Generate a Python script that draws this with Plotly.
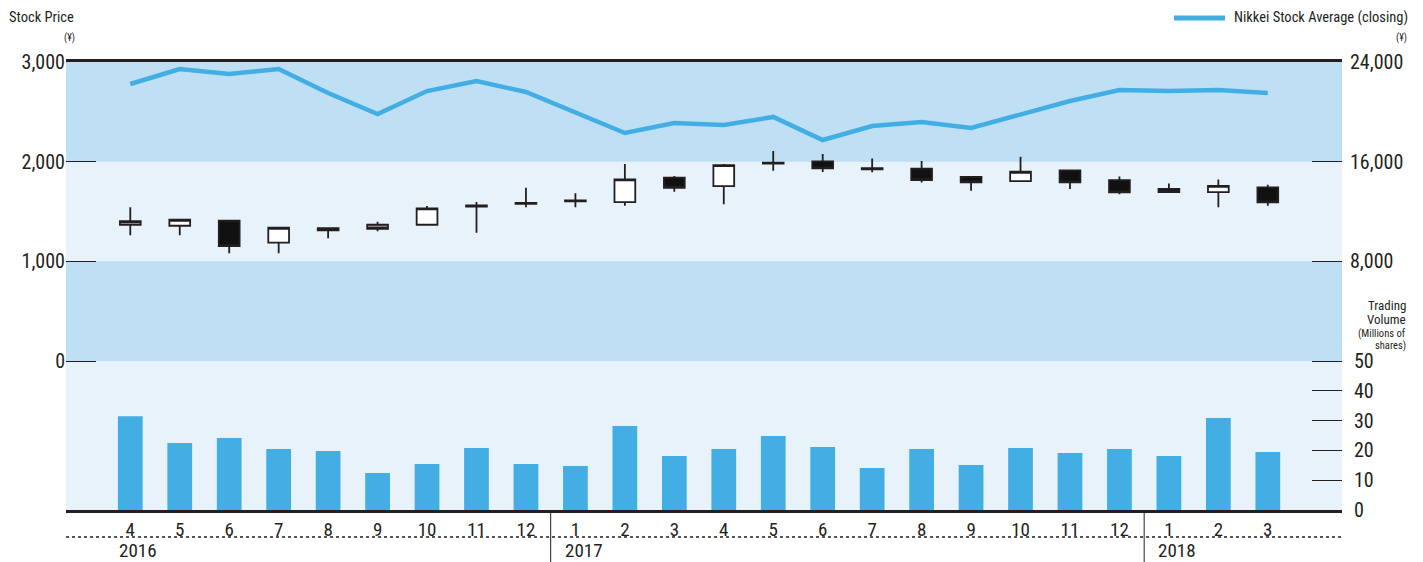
import plotly.graph_objects as go

# ---------------- data ----------------
months = ["4", "5", "6", "7", "8", "9", "10", "11", "12",
          "1", "2", "3", "4", "5", "6", "7", "8", "9", "10", "11", "12",
          "1", "2", "3"]
years = ["2016", "2017", "2018"]
year_start_idx = [0, 9, 21]

open_ = [1367, 1357, 1407, 1187, 1334, 1367, 1367, 1560, 1587,
         1612, 1595, 1839, 1755, 1991, 2003, 1935, 1929, 1846, 1805, 1913, 1815,
         1728, 1695, 1742]
high = [1542, 1427, 1410, 1345, 1340, 1397, 1555, 1595, 1738,
        1682, 1976, 1856, 1976, 2106, 2076, 2033, 2006, 1856, 2049, 1916, 1852,
        1782, 1822, 1768]
low = [1261, 1261, 1080, 1080, 1231, 1301, 1357, 1287, 1542,
       1542, 1558, 1698, 1572, 1909, 1896, 1893, 1792, 1708, 1800, 1725, 1672,
       1690, 1542, 1558]
close = [1404, 1417, 1153, 1337, 1311, 1327, 1532, 1548, 1577,
         1602, 1822, 1738, 1966, 1981, 1933, 1922, 1815, 1792, 1899, 1792, 1692,
         1695, 1758, 1592]
neutral_idx = [0, 5]   # months drawn with a grey body

nikkei = [22235, 23440, 23040, 23440, 21510, 19830, 21670, 22480, 21590,
          19910, 18300, 19100, 18940, 19590, 17740, 18860, 19180, 18700, 19830, 20870, 21750,
          21670, 21750, 21510]

volume = [31.5, 22.5, 24.2, 20.5, 19.8, 12.4, 15.4, 20.8, 15.4,
          14.8, 28.2, 18.1, 20.5, 24.8, 21.1, 14.1, 20.5, 15.1, 20.8, 19.1, 20.5,
          18.1, 30.9, 19.5]

price_ticks = [0, 1000, 2000, 3000]
nikkei_ticks = [8000, 16000, 24000]
volume_ticks = [0, 10, 20, 30, 40, 50]

# ---------------- styling ----------------
FONT = "Liberation Sans Narrow, Roboto Condensed, Arial Narrow, Liberation Sans, sans-serif"
DARK = "#231f20"
BLUE = "#42aee3"
BAND_DARK = "#bedff4"
BAND_LIGHT = "#e7f2fb"

W, H = 1423, 562
L, R, T, B = 66, 1342, 62, 510


def px_x(px):
    return (px - L) / (R - L)


def px_y(py):
    return (B - py) / (B - T)


x = list(range(len(months)))
idx_neutral = [i for i in x if i in neutral_idx]
idx_normal = [i for i in x if i not in neutral_idx]

fig = go.Figure()

# volume bars
fig.add_trace(go.Bar(x=x, y=volume, yaxis="y3", marker=dict(color=BLUE, line_width=0),
                     showlegend=False))

# candlesticks
fig.add_trace(go.Candlestick(
    x=idx_normal,
    open=[open_[i] for i in idx_normal], high=[high[i] for i in idx_normal],
    low=[low[i] for i in idx_normal], close=[close[i] for i in idx_normal],
    increasing=dict(fillcolor="white", line=dict(color=DARK, width=1.8)),
    decreasing=dict(fillcolor="#111111", line=dict(color=DARK, width=1.8)),
    whiskerwidth=0, showlegend=False, yaxis="y"))
fig.add_trace(go.Candlestick(
    x=idx_neutral,
    open=[open_[i] for i in idx_neutral], high=[high[i] for i in idx_neutral],
    low=[low[i] for i in idx_neutral], close=[close[i] for i in idx_neutral],
    increasing=dict(fillcolor="#a7a9ac", line=dict(color=DARK, width=1.8)),
    decreasing=dict(fillcolor="#a7a9ac", line=dict(color=DARK, width=1.8)),
    whiskerwidth=0, showlegend=False, yaxis="y"))

# nikkei line
fig.add_trace(go.Scatter(x=x, y=nikkei, yaxis="y2", mode="lines",
                         line=dict(color=BLUE, width=4.5), showlegend=False))

# axis ranges derived from pixel layout
price_per_px = 3000 / (361 - T)
price_min = -(B - 361) * price_per_px
vol_per_px = 50 / (B - 361)
vol_max = (B - T) * vol_per_px

shapes = [
    dict(type="rect", xref="paper", yref="y", x0=0, x1=1, y0=2000, y1=3000,
         fillcolor=BAND_DARK, line_width=0, layer="below"),
    dict(type="rect", xref="paper", yref="y", x0=0, x1=1, y0=0, y1=1000,
         fillcolor=BAND_DARK, line_width=0, layer="below"),
    # dotted separator between month and year rows
    dict(type="line", xref="paper", yref="paper", x0=0, x1=1,
         y0=px_y(537), y1=px_y(537), line=dict(color=DARK, width=1.3, dash="dot")),
    # legend sample
    dict(type="line", xref="paper", yref="paper", x0=px_x(1174), x1=px_x(1225),
         y0=px_y(18), y1=px_y(18), line=dict(color=BLUE, width=5)),
]
for xi in [8.5, 20.5]:
    shapes.append(dict(type="line", xref="x", yref="paper", x0=xi, x1=xi,
                       y0=0, y1=px_y(562), line=dict(color=DARK, width=1)))

annotations = [
    dict(text="Stock Price", x=px_x(7), y=px_y(18), xanchor="left", yanchor="middle",
         font=dict(size=14.5, color=DARK)),
    dict(text="(¥)", x=px_x(77), y=px_y(38), xanchor="right", yanchor="middle",
         font=dict(size=10, color=DARK)),
    dict(text="Nikkei Stock Average (closing)", x=px_x(1232), y=px_y(18),
         xanchor="left", yanchor="middle", font=dict(size=14.5, color=DARK)),
    dict(text="(¥)", x=px_x(1409), y=px_y(38), xanchor="right", yanchor="middle",
         font=dict(size=10, color=DARK)),
    dict(text="Trading", x=px_x(1408), y=px_y(305), xanchor="right", yanchor="middle",
         font=dict(size=13, color=DARK)),
    dict(text="Volume", x=px_x(1408), y=px_y(319), xanchor="right", yanchor="middle",
         font=dict(size=13, color=DARK)),
    dict(text="(Millions of", x=px_x(1408), y=px_y(333), xanchor="right", yanchor="middle",
         font=dict(size=10.5, color=DARK)),
    dict(text="shares)", x=px_x(1408), y=px_y(345), xanchor="right", yanchor="middle",
         font=dict(size=10.5, color=DARK)),
]
for yr, si in zip(years, year_start_idx):
    annotations.append(dict(text=yr, xref="x", x=si - 0.26, yref="paper", y=px_y(550),
                            xanchor="left", yanchor="middle",
                            font=dict(size=19, color=DARK)))
for a in annotations:
    a.setdefault("xref", "paper")
    a.setdefault("yref", "paper")
    a["showarrow"] = False

fig.update_layout(
    width=W, height=H,
    margin=dict(l=L, r=W - R, t=T, b=H - B, pad=0),
    paper_bgcolor="white", plot_bgcolor=BAND_LIGHT,
    font=dict(family=FONT, color=DARK),
    bargap=0.5, boxgap=0.58, boxgroupgap=0,
    showlegend=False,
    xaxis=dict(range=[-1.3, 24.5], tickmode="array", tickvals=x, ticktext=months,
               showgrid=False, zeroline=False, ticks="", showline=True, mirror=True,
               linecolor=DARK, linewidth=3, tickfont=dict(size=19, color=DARK),
               rangeslider=dict(visible=False), fixedrange=True),
    yaxis=dict(range=[price_min, 3000], tickvals=price_ticks, tickformat=",",
               showgrid=False, zeroline=False, ticks="inside", ticklen=30, tickwidth=1,
               tickcolor=DARK, tickfont=dict(size=20, color=DARK), showline=False),
    yaxis2=dict(range=[price_min * 8, 24000], tickvals=nikkei_ticks, tickformat=",",
                overlaying="y", side="right", anchor="x",
                showgrid=False, zeroline=False, ticks="inside", ticklen=30, tickwidth=1,
                tickcolor=DARK, tickfont=dict(size=20, color=DARK), showline=False,
                ticklabelstandoff=7),
    yaxis3=dict(range=[0, vol_max], tickvals=volume_ticks,
                overlaying="y", side="right", anchor="x",
                showgrid=False, zeroline=False, ticks="inside", ticklen=30, tickwidth=1,
                tickcolor=DARK, tickfont=dict(size=20, color=DARK), showline=False,
                ticklabelstandoff=11),
    shapes=shapes, annotations=annotations,
)

fig.write_html("out.html", config={"displayModeBar": False},
               post_script="document.body.style.margin='0px';")
